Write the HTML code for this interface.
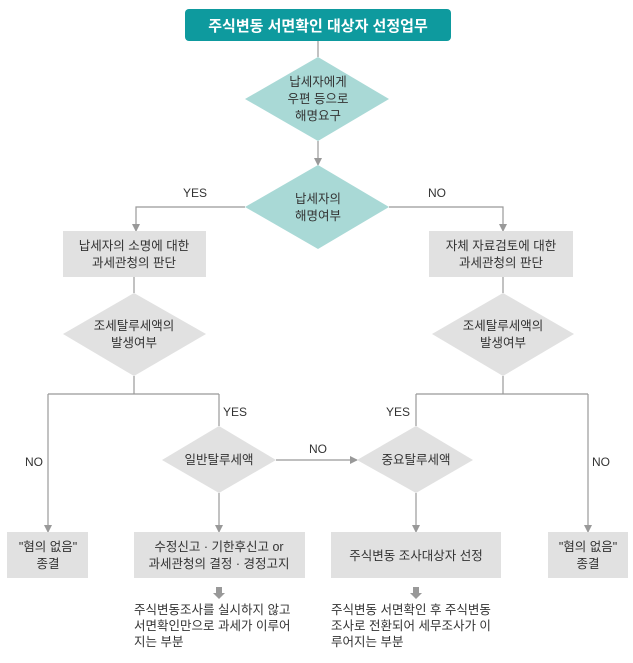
<!DOCTYPE html>
<html><head><meta charset="utf-8"><style>
body{margin:0;background:#fff}
svg text{font-family:"Liberation Sans","Noto Sans CJK KR",sans-serif;font-size:12.5px;fill:#333;text-anchor:middle}
</style></head><body>
<svg width="633" height="658" viewBox="0 0 633 658" xmlns="http://www.w3.org/2000/svg">
<defs><marker id="a" markerWidth="8" markerHeight="8" refX="7" refY="4" orient="auto" markerUnits="userSpaceOnUse"><path d="M0,0 L8,4 L0,8 Z" fill="#999"/></marker></defs>
<g stroke="#999" stroke-width="1.2" fill="none">
<line x1="318" y1="41" x2="318" y2="57"/>
<line x1="318" y1="141" x2="318" y2="165" marker-end="url(#a)"/>
<polyline points="245,207 136,207 136,231" marker-end="url(#a)"/>
<polyline points="389,207 503,207 503,231" marker-end="url(#a)"/>
<line x1="134" y1="277" x2="134" y2="293"/>
<line x1="503" y1="277" x2="503" y2="293"/>
<line x1="134" y1="376" x2="134" y2="394"/>
<line x1="503" y1="376" x2="503" y2="394"/>
<polyline points="48,394 48,532" marker-end="url(#a)"/>
<line x1="48" y1="394" x2="219" y2="394"/>
<line x1="219" y1="394" x2="219" y2="426"/>
<line x1="219" y1="493" x2="219" y2="532" marker-end="url(#a)"/>
<line x1="276" y1="460" x2="357" y2="460" marker-end="url(#a)"/>
<line x1="416" y1="394" x2="588" y2="394"/>
<line x1="416" y1="394" x2="416" y2="426"/>
<line x1="416" y1="493" x2="416" y2="532" marker-end="url(#a)"/>
<line x1="588" y1="394" x2="588" y2="532" marker-end="url(#a)"/>
</g>
<rect x="185" y="9" width="266" height="32" rx="4" fill="#0e9a9e"/>
<text x="318" y="31" style="fill:#fff;font-size:15px;font-weight:bold">주식변동 서면확인 대상자 선정업무</text>
<polygon points="318,57 389,99 318,141 245,99" fill="#a9d9d6"/>
<text x="318" y="86">납세자에게</text><text x="318" y="103">우편 등으로</text><text x="318" y="120">해명요구</text>
<polygon points="318,165 389,207 318,249 245,207" fill="#a9d9d6"/>
<text x="318" y="203">납세자의</text><text x="318" y="220">해명여부</text>
<text x="195" y="197" style="font-size:12px">YES</text><text x="437" y="197" style="font-size:12px">NO</text>
<rect x="63" y="231" width="143" height="46" fill="#e1e1e1"/>
<text x="134" y="250">납세자의 소명에 대한</text><text x="134" y="267">과세관청의 판단</text>
<rect x="429" y="231" width="144" height="46" fill="#e1e1e1"/>
<text x="501" y="250">자체 자료검토에 대한</text><text x="501" y="267">과세관청의 판단</text>
<polygon points="134,293 206,334 134,376 63,334" fill="#e1e1e1"/>
<text x="134" y="330">조세탈루세액의</text><text x="134" y="347">발생여부</text>
<polygon points="503,293 574,334 503,376 432,334" fill="#e1e1e1"/>
<text x="503" y="330">조세탈루세액의</text><text x="503" y="347">발생여부</text>
<text x="235" y="416" style="font-size:12px">YES</text><text x="398" y="416" style="font-size:12px">YES</text>
<text x="34" y="466" style="font-size:12px">NO</text><text x="601" y="466" style="font-size:12px">NO</text>
<text x="318" y="453" style="font-size:12px">NO</text>
<polygon points="219,426 276,460 219,493 162,460" fill="#e1e1e1"/>
<text x="219" y="464">일반탈루세액</text>
<polygon points="416,426 473,460 416,493 357,460" fill="#e1e1e1"/>
<text x="416" y="464">중요탈루세액</text>
<rect x="7" y="532" width="81" height="46" fill="#e1e1e1"/>
<text x="48" y="551">"혐의 없음"</text><text x="48" y="568">종결</text>
<rect x="134" y="532" width="171" height="46" fill="#e1e1e1"/>
<text x="219" y="551">수정신고 · 기한후신고 or</text><text x="219" y="568">과세관청의 결정 · 경정고지</text>
<rect x="331" y="532" width="170" height="46" fill="#e1e1e1"/>
<text x="416" y="560">주식변동 조사대상자 선정</text>
<rect x="548" y="532" width="80" height="46" fill="#e1e1e1"/>
<text x="588" y="551">"혐의 없음"</text><text x="588" y="568">종결</text>
<path d="M216,587 h6 v6 h3 l-6,6 l-6,-6 h3 Z" fill="#999"/>
<path d="M413,587 h6 v6 h3 l-6,6 l-6,-6 h3 Z" fill="#999"/>
<g style="text-anchor:start">
<text x="134" y="614" style="text-anchor:start">주식변동조사를 실시하지 않고</text>
<text x="134" y="630" style="text-anchor:start">서면확인만으로 과세가 이루어</text>
<text x="134" y="646" style="text-anchor:start">지는 부분</text>
<text x="331" y="614" style="text-anchor:start">주식변동 서면확인 후 주식변동</text>
<text x="331" y="630" style="text-anchor:start">조사로 전환되어 세무조사가 이</text>
<text x="331" y="646" style="text-anchor:start">루어지는 부분</text>
</g>
</svg>
</body></html>
